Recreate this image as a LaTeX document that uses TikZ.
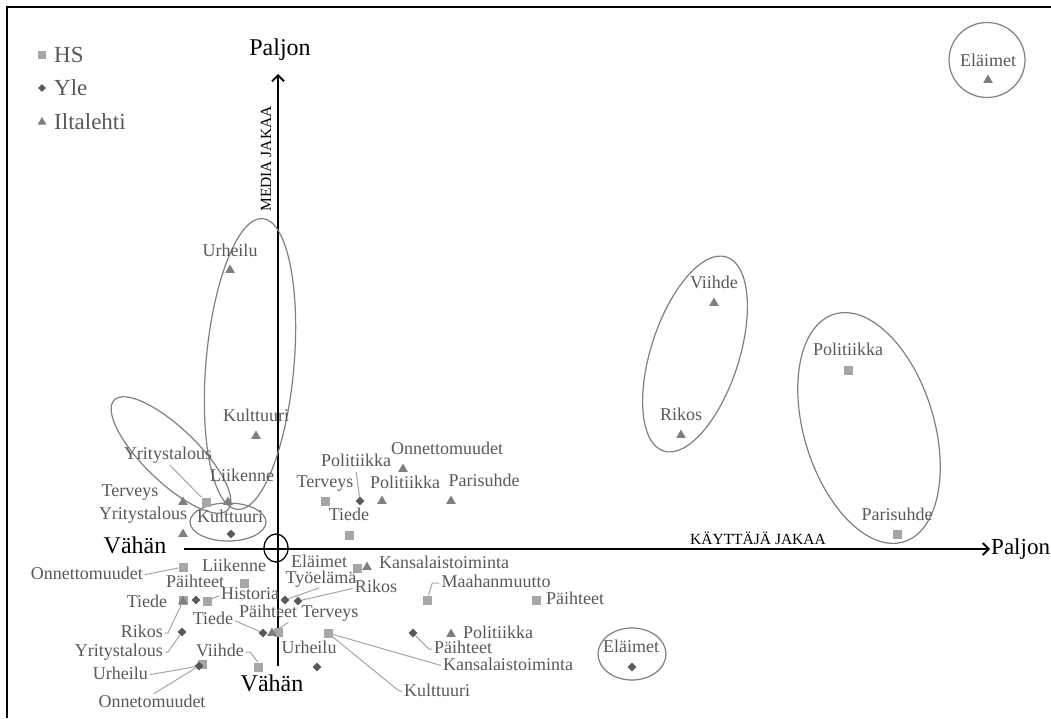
\documentclass[tikz,border=0pt]{standalone}
\usepackage{fontspec}
\setmainfont{Liberation Serif}
\usetikzlibrary{shapes.geometric,arrows.meta}
\definecolor{hsgray}{HTML}{A6A6A6}
\definecolor{ylegray}{HTML}{595959}
\definecolor{ilgray}{HTML}{7F7F7F}
\definecolor{labgray}{HTML}{595959}
\definecolor{ellgray}{HTML}{808080}
\definecolor{leadgray}{HTML}{A6A6A6}
\begin{document}
\begin{tikzpicture}[x=1pt,y=-1pt,
  hs/.style={rectangle, fill=hsgray, minimum size=9pt, inner sep=0pt},
  yle/.style={diamond, fill=ylegray, minimum size=9pt, inner sep=0pt},
  il/.style={regular polygon, regular polygon sides=3, fill=ilgray, minimum size=11pt, inner sep=0pt},
  lab/.style={text=labgray, inner sep=0pt, text height=12.5pt, text depth=3.5pt, font=\fontsize{18}{20}\selectfont},
  leader/.style={draw=leadgray, line width=1pt, shorten <=2pt},
  ring/.style={draw=ellgray, line width=1.2pt},
  axis/.style={line width=1.8pt, -{Straight Barb[length=6pt,width=12pt]}},
  big/.style={font=\fontsize{24}{26}\selectfont, inner sep=0pt},
  axislab/.style={font=\fontsize{15.5}{17}\selectfont, inner sep=0pt},
  leg/.style={text=labgray, font=\fontsize{23}{25}\selectfont, inner sep=0pt, anchor=west}]

% canvas
\useasboundingbox (0,0) rectangle (1051,718);
\fill[white] (0,0) rectangle (1051,718);
\draw[line width=1.2pt] (7,718) -- (7,7) -- (1051,7);

% legend
\node[hs, minimum size=8pt] (lgHS) at (42,55) {};
\node[leg] (lgHSt) at (54,55) {HS};
\node[yle, minimum size=8pt] (lgYle) at (42,88) {};
\node[leg] (lgYlet) at (54,88) {Yle};
\node[il, minimum size=10pt] (lgIl) at (42,122) {};
\node[leg] (lgIlt) at (54,122) {Iltalehti};

% axes
\coordinate (xL) at (184,549);
\coordinate (xR) at (990,549);
\coordinate (yB) at (278,666);
\coordinate (yT) at (278,74);
\draw[axis] (xL) -- (xR);
\draw[axis] (yB) -- (yT);
\node[big] (vLeft) at (135,545) {Vähän};
\node[big, anchor=west, font=\fontsize{23}{25}\selectfont] (pRight) at (991,549) {Paljon};
\node[big] (pTop) at (280,50) {Paljon};
\node[big] (vBottom) at (272,683) {Vähän};
\node[axislab, rotate=90] (media) at (266,159) {MEDIA JAKAA};
\node[axislab] (kayt) at (758,538) {KÄYTTÄJÄ JAKAA};
\draw[line width=1.3pt] (276,548) ellipse [x radius=12, y radius=14];

% groupings
\draw[ring, rotate around={-5:(250,364)}] (250,364) ellipse [x radius=44, y radius=146];
\draw[ring, rotate around={-44:(171,455)}] (171,455) ellipse [x radius=79, y radius=27];
\draw[ring] (228,522) ellipse [x radius=38, y radius=19];
\draw[ring, rotate around={-18:(695,354)}] (695,354) ellipse [x radius=44, y radius=102];
\draw[ring, rotate around={17:(869,428)}] (869,428) ellipse [x radius=65, y radius=119];
\draw[ring] (987,60) ellipse [x radius=38, y radius=37.5];
\draw[ring] (632,654) ellipse [x radius=34, y radius=26];

% ---- upper half
\node[hs] (sPolR) at (848,370) {};   \node[lab] (lPolR) at (848,351) {Politiikka};
\node[hs] (sPar) at (897,534) {};    \node[lab] (lPar) at (897,516) {Parisuhde};
\node[il] (tVii) at (714,303) {};    \node[lab] (lViiR) at (714,284) {Viihde};
\node[il] (tRikR) at (681,435) {};   \node[lab] (lRikR) at (681,416) {Rikos};
\node[il] (tEla) at (988,80) {};     \node[lab] (lEla) at (988,62) {Eläimet};
\node[il] (tUrh) at (230,270) {};    \node[lab] (lUrh) at (230,252) {Urheilu};
\node[il] (tKul) at (256,436) {};    \node[lab] (lKul) at (256,417) {Kulttuuri};
\node[hs] (sYr1) at (206,502) {};    \node[lab] (lYr1) at (168,455) {Yritystalous};
\node[il] (tLii) at (228,502) {};    \node[lab] (lLii) at (242,477) {Liikenne};
\node[il] (tTer) at (183,502) {};    \node[lab] (lTer) at (130,492) {Terveys};
\node[il] (tYr) at (183,534) {};     \node[lab] (lYr) at (143,515) {Yritystalous};
\node[yle] (dKul) at (231,534) {};   \node[lab] (lKulY) at (230,518) {Kulttuuri};
\node[hs] (sTer1) at (325,501) {};   \node[lab] (lTer1) at (325,483) {Terveys};
\node[hs] (sTie1) at (349,535) {};   \node[lab] (lTie1) at (349,516) {Tiede};
\node[yle] (dPol1) at (360,501) {};  \node[lab] (lPol1) at (356,462) {Politiikka};
\node[il] (tOnn) at (403,469) {};    \node[lab] (lOnn) at (447,450) {Onnettomuudet};
\node[il] (tPol) at (382,501) {};    \node[lab] (lPol) at (405,484) {Politiikka};
\node[il] (tPar) at (451,501) {};    \node[lab] (lParI) at (484,482) {Parisuhde};

% ---- lower half
\node[hs] (sOnn1) at (183,567) {};   \node[lab, anchor=east] (lOnn1) at (143,575) {Onnettomuudet};
\node[hs] (sLii) at (244,583) {};    \node[lab] (lLiiH) at (234,567) {Liikenne};
\node[yle] (dPai1) at (196,600) {};  \node[lab] (lPai1) at (195,583) {Päihteet};
\node[hs] (sTie) at (183,600) {};    \node[lab] (lTie) at (147,603) {Tiede};
\node[il] (tRik1) at (183,601) {};   \node[lab, anchor=east] (lRik1) at (163,633) {Rikos};
\node[hs] (sHist) at (207,601) {};   \node[lab] (lHist) at (250,595) {Historia};
\node[yle] (dYr2) at (182,632) {};   \node[lab, anchor=east] (lYr2) at (163,652) {Yritystalous};
\node[hs] (sVii) at (258,667) {};    \node[lab] (lVii) at (220,652) {Viihde};
\node[hs] (sUrh1) at (202,664) {};
\node[yle] (dUrh1) at (199,666) {};  \node[lab, anchor=east] (lUrh1) at (148,675) {Urheilu};
                                     \node[lab] (lOnn2) at (152,703) {Onnetomuudet};
\node[yle] (dTie2) at (263,633) {};  \node[lab] (lTie2) at (213,620) {Tiede};
\node[hs] (sPai2) at (278,632) {};
\node[il] (tPai2) at (272,633) {};   \node[lab] (lPai2) at (268,613) {Päihteet};
\node[yle] (dTyo) at (285,600) {};   \node[lab] (lTyo) at (321,579) {Työelämä};
\node[yle] (dRik2) at (298,601) {};  \node[lab] (lRik2) at (376,588) {Rikos};
\node[hs] (sEla) at (357,568) {};    \node[lab] (lElaH) at (319,563) {Eläimet};
\node[il] (tKans) at (367,567) {};   \node[lab] (lKans) at (444,564) {Kansalaistoiminta};
\node[hs] (sTer2) at (328,633) {};   \node[lab] (lTer2) at (330,613) {Terveys};
                                     \node[lab] (lKans2) at (508,666) {Kansalaistoiminta};
                                     \node[lab] (lKult2) at (437,692) {Kulttuuri};
\node[yle] (dUrh2) at (317,667) {};  \node[lab] (lUrh2) at (309,649) {Urheilu};
\node[hs] (sMaa) at (427,600) {};    \node[lab] (lMaa) at (496,583) {Maahanmuutto};
\node[hs] (sPai4) at (536,600) {};   \node[lab] (lPai4) at (575,600) {Päihteet};
\node[il] (tPol2) at (451,634) {};   \node[lab] (lPol2) at (498,634) {Politiikka};
\node[yle] (dPai3) at (413,633) {};  \node[lab] (lPai3) at (463,649) {Päihteet};
\node[yle] (dEla) at (632,667) {};   \node[lab] (lElaY) at (631,648) {Eläimet};

% leader lines
\draw[leader] (lYr1.south) -- (sYr1);
\draw[leader] (lOnn1.east) -- (sOnn1);
\draw[leader] (lHist.west) -- (sHist);
\draw[leader] (lRik1.east) -- ++(5,0) -- (tRik1);
\draw[leader] (lYr2.east) -- ++(5,0) -- (dYr2);
\draw[leader] (lVii.east) -- ++(6,0) -- (sVii.north);
\draw[leader] (lUrh1.east) -- (dUrh1);
\draw[leader] (lOnn2.north) -- (dUrh1);
\draw[leader] (lTie2.east) -- (dTie2);
\draw[leader] ([xshift=-7pt]lPai2.south east) -- (tPai2);
\draw[leader] (lTyo.south) -- (dTyo);
\draw[leader] (lRik2.west) -- (dRik2);
\draw[leader] (lPol1.south) -- (dPol1);
\draw[leader] (lMaa.west) -- ++(-9,0) -- (sMaa);
\draw[leader] (lPai3.west) -- ++(-5,0) -- (dPai3);
\draw[leader] (lKans2.west) -- (sTer2);
\draw[leader] (lKult2.west) -- ++(-6,-2) -- (sTer2);
\end{tikzpicture}
\end{document}
